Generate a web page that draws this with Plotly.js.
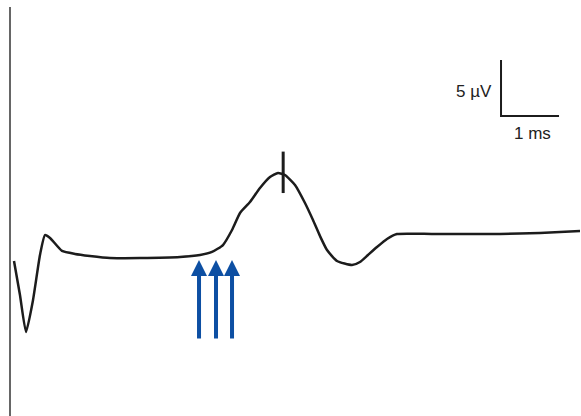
<!DOCTYPE html>
<html>
<head>
<meta charset="utf-8">
<script src="https://cdn.plot.ly/plotly-3.0.1.min.js"></script>
<style>html,body{margin:0;padding:0;background:#fff;}#chart{width:581px;height:416px;}</style>
</head>
<body>
<div id="chart"></div>
<script>
// Time (ms) and amplitude (µV) of the recorded waveform
var timeMs = [0.069,0.172,0.276,0.397,0.517,0.603,0.690,0.897,1.121,1.379,1.724,2.241,2.931,3.276,3.483,3.672,3.828,3.966,4.138,4.310,4.483,4.621,4.741,4.914,5.086,5.224,5.345,5.466,5.638,5.897,6.034,6.172,6.328,6.500,6.672,7.293,8.448,9.138,9.828];
var ampUv  = [-0.27,-3.30,-6.61,-3.75,0.27,2.05,1.79,0.63,0.36,0.18,0.0,0.0,0.09,0.27,0.54,1.16,2.50,4.02,5.00,6.25,7.23,7.59,7.41,6.52,4.91,3.39,1.96,0.71,-0.27,-0.63,-0.36,0.27,0.98,1.70,2.14,2.14,2.14,2.23,2.41];

// Peak marker (vertical tick)
var peakTime = 4.71;
var peakTickUv = [5.8, 9.5];

// Stimulus arrows
var arrowTimes = [3.259, 3.552, 3.828];
var arrowTipUv = -0.18;
var arrowTailUv = -7.32;

// Scale bar: 5 µV and 1 ms
var scaleCornerT = 8.466, scaleCornerV = 12.68;
var scaleUv = 5, scaleMs = 1;
var scaleLabels = ['5 µV', '1 ms'];

var traces = [
  {x: timeMs, y: ampUv, mode: 'lines', line: {color: '#1c1c1c', width: 2.5, shape: 'spline', smoothing: 0.5}, hoverinfo: 'skip'},
  {x: [peakTime, peakTime], y: peakTickUv, mode: 'lines', line: {color: '#1c1c1c', width: 3}, hoverinfo: 'skip'},
  {x: [scaleCornerT, scaleCornerT, scaleCornerT + scaleMs], y: [scaleCornerV + scaleUv, scaleCornerV, scaleCornerV], mode: 'lines', line: {color: '#1c1c1c', width: 2}, hoverinfo: 'skip'}
];

var annotations = arrowTimes.map(function (t) {
  return {x: t, y: arrowTipUv, ax: t, ay: arrowTailUv, axref: 'x', ayref: 'y', xref: 'x', yref: 'y',
          text: '', showarrow: true, arrowhead: 2, arrowsize: 0.8, arrowwidth: 4, arrowcolor: '#0d4fa3'};
});
annotations.push({x: scaleCornerT - 0.12, y: scaleCornerV + scaleUv / 2 - 0.3, xref: 'x', yref: 'y', text: scaleLabels[0],
  showarrow: false, xanchor: 'right', yanchor: 'middle', font: {family: 'Liberation Sans, Arial, sans-serif', size: 17, color: '#222'}});
annotations.push({x: scaleCornerT + scaleMs / 2 + 0.05, y: scaleCornerV - 0.5, xref: 'x', yref: 'y', text: scaleLabels[1],
  showarrow: false, xanchor: 'center', yanchor: 'top', font: {family: 'Liberation Sans, Arial, sans-serif', size: 17, color: '#222'}});

var layout = {
  width: 581, height: 416,
  margin: {l: 0, r: 0, t: 0, b: 0},
  paper_bgcolor: '#fff', plot_bgcolor: '#fff',
  showlegend: false,
  xaxis: {range: [-0.1724, 9.845], visible: false, fixedrange: true},
  yaxis: {range: [-14.107, 23.036], visible: false, fixedrange: true},
  shapes: [{type: 'line', xref: 'x', yref: 'paper', x0: 0, x1: 0, y0: 0, y1: 0.983, line: {color: '#333', width: 1.5}}],
  annotations: annotations
};

Plotly.newPlot('chart', traces, layout, {displayModeBar: false, staticPlot: true});
</script>
</body>
</html>
